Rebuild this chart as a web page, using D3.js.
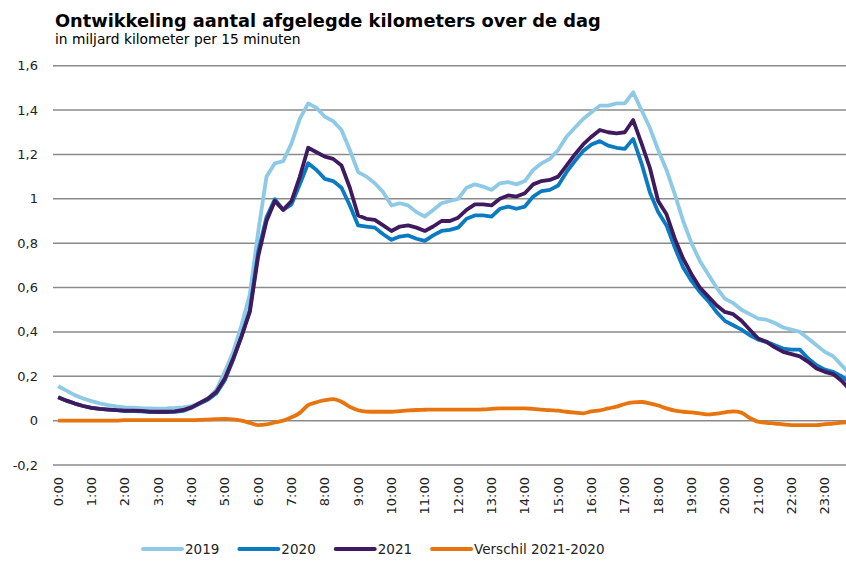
<!DOCTYPE html>
<html>
<head>
<meta charset="utf-8">
<script src="https://cdn.jsdelivr.net/npm/d3@7"></script>
<style>
	body { margin: 0; background: #fff; }
	svg { display: block; font-family: "DejaVu Sans", Verdana, sans-serif; }
</style>
</head>
<body>
<svg id="chart" width="846" height="561"></svg>
<script>
// tick labels on the x axis (one per hour)
var hourLabels = ["0:00","1:00","2:00","3:00","4:00","5:00","6:00","7:00","8:00","9:00","10:00","11:00",
	"12:00","13:00","14:00","15:00","16:00","17:00","18:00","19:00","20:00","21:00","22:00","23:00"];
var quarterLabels = ["00","15","30","45"];

var yTicks = [-0.2, 0, 0.2, 0.4, 0.6, 0.8, 1, 1.2, 1.4, 1.6];

// miljard km per 15 minuten, 96 kwartieren
var values2019 = [
	0.155,0.135,0.115,0.10, 0.088,0.078,0.07,0.064, 0.06,0.058,0.056,0.055, 0.054,0.055,0.057,0.06,
	0.065,0.08,0.10,0.14, 0.22,0.31,0.43,0.57, 0.85,1.10,1.16,1.17, 1.25,1.36,1.43,1.41,
	1.37,1.35,1.31,1.22, 1.12,1.10,1.07,1.03, 0.97,0.98,0.97,0.94, 0.92,0.95,0.98,0.99,
	1.00,1.05,1.065,1.055, 1.04,1.07,1.075,1.065, 1.08,1.13,1.16,1.18, 1.22,1.28,1.32,1.36,
	1.39,1.42,1.42,1.43, 1.43,1.48,1.40,1.32, 1.22,1.13,1.02,0.90, 0.80,0.72,0.66,0.60,
	0.55,0.53,0.50,0.48, 0.46,0.455,0.44,0.42, 0.41,0.40,0.37,0.34, 0.31,0.29,0.25,0.21
];
var values2020 = [
	0.105,0.09,0.077,0.066, 0.058,0.053,0.05,0.047, 0.043,0.043,0.042,0.039, 0.038,0.038,0.04,0.044,
	0.058,0.077,0.095,0.123, 0.182,0.274,0.38,0.50, 0.76,0.917,0.998,0.95, 0.975,1.065,1.16,1.13,
	1.09,1.08,1.05,0.97, 0.88,0.875,0.87,0.84, 0.815,0.83,0.835,0.82, 0.81,0.835,0.855,0.86,
	0.87,0.91,0.925,0.925, 0.92,0.955,0.965,0.955, 0.965,1.01,1.035,1.04, 1.06,1.12,1.17,1.215,
	1.245,1.26,1.24,1.23, 1.225,1.27,1.16,1.03, 0.94,0.88,0.78,0.69, 0.63,0.58,0.54,0.49,
	0.45,0.43,0.41,0.385, 0.365,0.355,0.34,0.325, 0.32,0.32,0.28,0.25, 0.23,0.22,0.20,0.17
];
var values2021 = [
	0.105,0.09,0.077,0.066, 0.058,0.053,0.05,0.047, 0.045,0.045,0.044,0.041, 0.04,0.04,0.042,0.048,
	0.06,0.08,0.10,0.13, 0.19,0.28,0.38,0.49, 0.74,0.90,0.99,0.95, 0.99,1.10,1.23,1.21,
	1.19,1.18,1.15,1.05, 0.925,0.91,0.905,0.88, 0.855,0.875,0.88,0.87, 0.855,0.875,0.90,0.90,
	0.915,0.95,0.975,0.975, 0.97,1.00,1.015,1.01, 1.025,1.065,1.08,1.085, 1.10,1.15,1.20,1.245,
	1.28,1.31,1.30,1.295, 1.30,1.355,1.25,1.14, 0.99,0.93,0.82,0.73, 0.66,0.60,0.56,0.52,
	0.49,0.48,0.45,0.41, 0.37,0.355,0.33,0.31, 0.30,0.29,0.265,0.235, 0.22,0.21,0.18,0.14
];
var valuesVerschil = [
	0,0,0,0, 0,0,0,0, 0.002,0.002,0.002,0.002, 0.002,0.002,0.002,0.002,
	0.002,0.003,0.005,0.007, 0.008,0.006,0,-0.01, -0.02,-0.017,-0.008,0, 0.015,0.035,0.07,0.083,
	0.092,0.097,0.085,0.062, 0.047,0.041,0.04,0.04, 0.04,0.043,0.046,0.048, 0.049,0.05,0.05,0.05,
	0.05,0.05,0.05,0.051, 0.053,0.055,0.055,0.055, 0.055,0.053,0.05,0.047, 0.045,0.04,0.036,0.033,
	0.042,0.046,0.055,0.063, 0.075,0.082,0.084,0.078, 0.068,0.055,0.045,0.04, 0.037,0.033,0.028,0.032,
	0.037,0.042,0.036,0.012, -0.005,-0.01,-0.013,-0.017, -0.02,-0.02,-0.02,-0.02, -0.016,-0.013,-0.009,-0.006
];

var seriesNames  = ["2019", "2020", "2021", "Verschil 2021-2020"];
var seriesColors = ["#8ecae6", "#0a7bc2", "#3f1a5e", "#e8740e"];

var categories = [];
hourLabels.forEach(function(h){
	quarterLabels.forEach(function(q){ categories.push(h.replace(":00", ":" + q)); });
});

var series = [values2019, values2020, values2021, valuesVerschil].map(function(vals, i){
	return { name: seriesNames[i], color: seriesColors[i], values: vals };
});

var svg = d3.select("#chart");
var plotLeft = 54, plotRight = 854, plotTop = 65.7, plotBottom = 465;

var x = d3.scaleBand().domain(categories).range([plotLeft, plotRight]).padding(0);
var y = d3.scaleLinear().domain([-0.2, 1.6]).range([plotBottom, plotTop]);
var fmt = function(v){
	return d3.format("~g")(+v.toFixed(1)).replace(".", ",").replace("\u2212", "-");
};

// title
svg.append("text")
	.attr("x", 55).attr("y", 27)
	.attr("font-size", 17.8).attr("font-weight", "bold").attr("fill", "#000")
	.text("Ontwikkeling aantal afgelegde kilometers over de dag");
svg.append("text")
	.attr("x", 55).attr("y", 44)
	.attr("font-size", 13.8).attr("fill", "#000")
	.text("in miljard kilometer per 15 minuten");

// grid + y labels
var gy = svg.append("g");
gy.selectAll("line").data(yTicks).enter().append("line")
	.attr("x1", plotLeft - 1).attr("x2", plotRight)
	.attr("y1", function(d){ return y(d); }).attr("y2", function(d){ return y(d); })
	.attr("stroke", "#8a8a8a").attr("stroke-width", 1.5);
gy.selectAll("text").data(yTicks).enter().append("text")
	.attr("x", 38).attr("y", function(d){ return y(d); }).attr("dy", "0.35em")
	.attr("text-anchor", "end").attr("font-size", 13).attr("fill", "#222")
	.text(fmt);

// x labels, every hour
svg.append("g").selectAll("text")
	.data(categories.filter(function(c, i){ return i % 4 === 0; }))
	.enter().append("text")
	.attr("transform", function(d){
		return "translate(" + (x(d) + x.bandwidth() / 2) + ",477) rotate(-90)";
	})
	.attr("dy", "0.35em").attr("text-anchor", "end")
	.attr("font-size", 13).attr("fill", "#222")
	.text(function(d){ return d; });

// lines
var line = d3.line()
	.x(function(d, i){ return x(categories[i]) + x.bandwidth() / 2; })
	.y(function(d){ return y(d); });

svg.append("g").selectAll("path").data(series).enter().append("path")
	.attr("d", function(s){
		return line.curve(s.name.indexOf("Verschil") === 0 ? d3.curveMonotoneX : d3.curveLinear)(s.values);
	})
	.attr("fill", "none")
	.attr("stroke", function(s){ return s.color; })
	.attr("stroke-width", 3.8)
	.attr("stroke-linejoin", "round");

// legend
var lx = 143;
series.forEach(function(s){
	svg.append("line")
		.attr("x1", lx).attr("x2", lx + 39).attr("y1", 549).attr("y2", 549)
		.attr("stroke", s.color).attr("stroke-width", 4).attr("stroke-linecap", "round");
	var t = svg.append("text")
		.attr("x", lx + 42).attr("y", 549).attr("dy", "0.36em")
		.attr("font-size", 13.5).attr("fill", "#222")
		.text(s.name);
	lx += 42 + t.node().getComputedTextLength() + 20;
});
</script>
</body>
</html>
